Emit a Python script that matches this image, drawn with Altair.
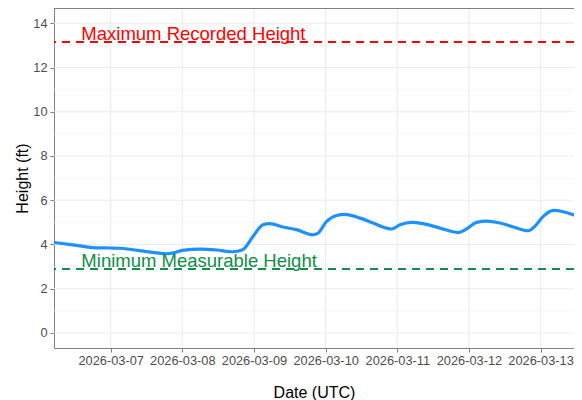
import altair as alt
import pandas as pd

# Water level series (UTC)
times = [
    "2026-03-06T05:00:00Z", "2026-03-06T12:00:00Z", "2026-03-06T19:00:00Z",
    "2026-03-07T00:00:00Z", "2026-03-07T03:00:00Z", "2026-03-07T07:30:00Z",
    "2026-03-07T12:00:00Z", "2026-03-07T18:40:00Z", "2026-03-07T21:00:00Z",
    "2026-03-08T00:00:00Z", "2026-03-08T06:00:00Z", "2026-03-08T11:30:00Z",
    "2026-03-08T17:00:00Z", "2026-03-08T20:10:00Z", "2026-03-08T23:40:00Z",
    "2026-03-09T03:00:00Z", "2026-03-09T05:20:00Z", "2026-03-09T09:40:00Z",
    "2026-03-09T14:10:00Z", "2026-03-09T19:50:00Z", "2026-03-09T21:30:00Z",
    "2026-03-10T00:20:00Z", "2026-03-10T03:40:00Z", "2026-03-10T06:25:00Z",
    "2026-03-10T11:30:00Z", "2026-03-10T15:55:00Z", "2026-03-10T20:25:00Z",
    "2026-03-10T22:05:00Z", "2026-03-11T00:55:00Z", "2026-03-11T04:50:00Z",
    "2026-03-11T08:40:00Z", "2026-03-11T14:20:00Z", "2026-03-11T20:25:00Z",
    "2026-03-11T23:10:00Z", "2026-03-12T02:35:00Z", "2026-03-12T05:55:00Z",
    "2026-03-12T10:25:00Z", "2026-03-12T14:55:00Z", "2026-03-12T19:55:00Z",
    "2026-03-12T22:05:00Z", "2026-03-13T00:55:00Z", "2026-03-13T04:20:00Z",
    "2026-03-13T07:35:00Z", "2026-03-13T11:00:00Z", "2026-03-13T13:55:00Z",
    "2026-03-13T15:00:00Z",
]
heights = [
    4.09, 3.97, 3.85,
    3.84, 3.83, 3.76,
    3.68, 3.58, 3.62,
    3.73, 3.79, 3.75,
    3.67, 3.76, 4.36,
    4.89, 4.94, 4.79,
    4.67, 4.44, 4.52,
    5.04, 5.31, 5.36,
    5.19, 4.97, 4.74,
    4.70, 4.89, 5.00,
    4.94, 4.74, 4.54,
    4.70, 5.00, 5.06,
    4.97, 4.79, 4.62,
    4.82, 5.27, 5.54,
    5.48, 5.34, 5.19,
    5.13,
]

max_height = 13.15
min_height = 2.89
max_label = "Maximum Recorded Height"
min_label = "Minimum Measurable Height"
label_time = "2026-03-06T14:10:00Z"

day_ticks = ["2026-03-07", "2026-03-08", "2026-03-09", "2026-03-10",
             "2026-03-11", "2026-03-12", "2026-03-13"]
y_major = [0, 2, 4, 6, 8, 10, 12, 14]
y_minor = [1, 3, 5, 7, 9, 11, 13]

series = pd.DataFrame({"t": times, "h": heights})
refs = pd.DataFrame({
    "h": [max_height, min_height],
    "label": [max_label, min_label],
    "t": [label_time, label_time],
    "kind": ["max", "min"],
})
xgrid = pd.DataFrame({"t": [d + "T00:00:00Z" for d in day_ticks]})
ygrid_major = pd.DataFrame({"h": y_major})
ygrid_minor = pd.DataFrame({"h": y_minor})

x_scale = alt.Scale(
    type="utc",
    domain=[alt.DateTime(year=2026, month=3, date=6, hours=5, utc=True),
            alt.DateTime(year=2026, month=3, date=13, hours=11, minutes=12, utc=True)],
    nice=False,
)
y_scale = alt.Scale(domain=[-0.68, 14.69], nice=False, zero=False)

x_axis = alt.Axis(
    values=[alt.DateTime(year=2026, month=3, date=d, utc=True) for d in range(7, 14)],
    labelExpr="utcFormat(datum.value, '%Y-%m-%d')", grid=False,
    labelFont="Liberation Sans", labelFontSize=12.8, labelColor="#4d4d4d",
    labelPadding=2, tickSize=4, tickColor="#808080", domainColor="#808080",
    title="Date (UTC)", titleFont="Liberation Sans", titleFontSize=16,
    titleFontWeight="normal", titleColor="#000000", titlePadding=18,
    labelOverlap=False,
)
y_axis = alt.Axis(
    values=y_major, grid=False,
    labelFont="Liberation Sans", labelFontSize=12.8, labelColor="#4d4d4d",
    labelPadding=3, tickSize=4, tickColor="#808080", domainColor="#808080",
    title="Height (ft)", titleFont="Liberation Sans", titleFontSize=16,
    titleFontWeight="normal", titleColor="#000000", titlePadding=2,
)

X = alt.X("t:T", scale=x_scale, axis=x_axis)
Y = alt.Y("h:Q", scale=y_scale, axis=y_axis)

grid_x = alt.Chart(xgrid).mark_rule(color="#ebebeb", strokeWidth=1).encode(x=X)
grid_y_major = alt.Chart(ygrid_major).mark_rule(color="#ebebeb", strokeWidth=1).encode(y=Y)
grid_y_minor = alt.Chart(ygrid_minor).mark_rule(color="#f2f2f2", strokeWidth=0.7).encode(y=Y)

top_border = alt.Chart(xgrid).mark_rule(color="#808080", strokeWidth=1).encode(
    y=alt.value(0.5))

line = alt.Chart(series).mark_line(
    color="#1E90FF", strokeWidth=3.2, interpolate="monotone", clip=True
).encode(x=X, y=Y)

color_scale = alt.Scale(domain=["max", "min"], range=["#FF0000", "#0E8F47"])

ref_lines = alt.Chart(refs).mark_rule(strokeDash=[8, 6], strokeWidth=2).encode(
    y=Y, color=alt.Color("kind:N", scale=color_scale, legend=None))

ref_text = alt.Chart(refs).mark_text(
    align="left", baseline="alphabetic", dy=-2, font="Liberation Sans", fontSize=18.5
).encode(x=X, y=Y, text="label:N",
         color=alt.Color("kind:N", scale=color_scale, legend=None))

chart = alt.layer(
    grid_y_minor, grid_y_major, grid_x, top_border, ref_lines, line, ref_text
).properties(
    width=520, height=340,
    autosize=alt.AutoSizeParams(type="none"),
    padding={"left": 46, "top": 0, "right": 0, "bottom": 52},
).configure_view(strokeOpacity=0)

chart.save("out.html", embed_options={"renderer": "svg", "actions": False})
